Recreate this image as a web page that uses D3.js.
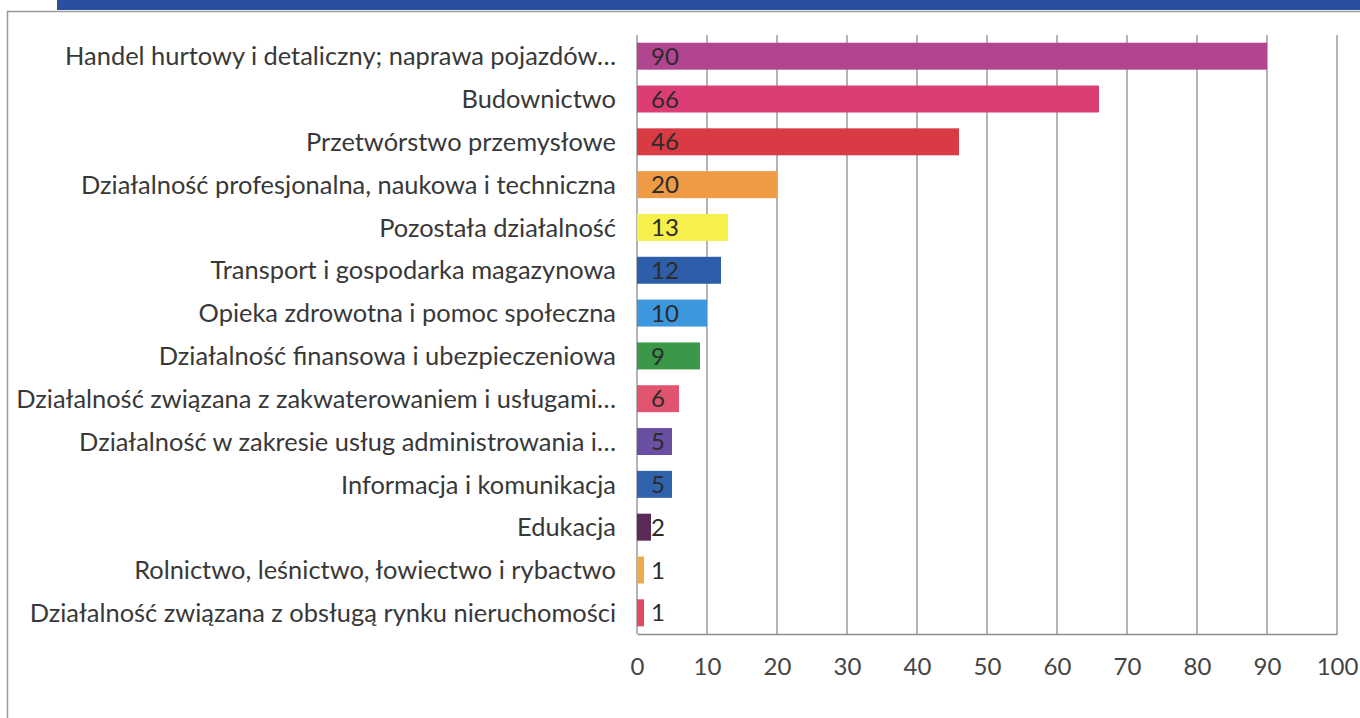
<!doctype html>
<html lang="pl">
<head>
  <meta charset="utf-8">
  <title>Osoby fizyczne wg rodzaju działalności</title>
  <style>
    body { margin: 0; background: #fff; }
    svg { display: block; }
    .lbl { font-family: Lato, "Open Sans", sans-serif; font-size: 27px; fill: #383838; }
    .tick text { font-family: Lato, "Open Sans", sans-serif; font-size: 24px; fill: #444; }
    .val { font-family: Lato, "Open Sans", sans-serif; font-size: 24px; fill: #2b2b2b; }
  </style>
</head>
<body>
  <script src="https://d3js.org/d3.v7.min.js" charset="utf-8"></script>
  <script>

  // categories, top to bottom
  var categories = [
    "Handel hurtowy i detaliczny; naprawa pojazdów…",
    "Budownictwo",
    "Przetwórstwo przemysłowe",
    "Działalność profesjonalna, naukowa i techniczna",
    "Pozostała działalność",
    "Transport i gospodarka magazynowa",
    "Opieka zdrowotna i pomoc społeczna",
    "Działalność finansowa i ubezpieczeniowa",
    "Działalność związana z zakwaterowaniem i usługami…",
    "Działalność w zakresie usług administrowania i…",
    "Informacja i komunikacja",
    "Edukacja",
    "Rolnictwo, leśnictwo, łowiectwo i rybactwo",
    "Działalność związana z obsługą rynku nieruchomości"
  ];
  var values = [90, 66, 46, 20, 13, 12, 10, 9, 6, 5, 5, 2, 1, 1];
  var colors = ["#b2458f", "#dc3d74", "#d93b45", "#ef9a45", "#f6ef4c", "#2e5ea9",
                "#3d97dc", "#3a9848", "#e05470", "#6a4fa2", "#2f63ae", "#5b2b58",
                "#f0aa4a", "#e04a62"];
  var xTicks = [0, 10, 20, 30, 40, 50, 60, 70, 80, 90, 100];

  var W = 1360, H = 718;
  var svg = d3.select("body").append("svg").attr("width", W).attr("height", H);

  // header strip (cut off at top of picture)
  svg.append("rect").attr("x", 57).attr("y", 0).attr("width", W - 57).attr("height", 10)
    .attr("fill", "#2a4f9e");

  // chart frame
  svg.append("rect").attr("x", 7.5).attr("y", 11.5).attr("width", W + 10).attr("height", H + 10)
    .attr("fill", "none").attr("stroke", "#9a9a9a").attr("stroke-width", 1.5);

  var x = d3.scaleLinear().domain([0, 100]).range([637, 1337]);
  var y = d3.scaleBand().domain(categories).range([35, 634]).paddingInner(0.37).paddingOuter(0.18);

  // vertical gridlines
  svg.append("g").selectAll("line").data(xTicks).enter().append("line")
    .attr("x1", function(d){ return x(d); }).attr("x2", function(d){ return x(d); })
    .attr("y1", 35).attr("y2", 634)
    .attr("stroke", "#8c8c8c").attr("stroke-width", 1.3);

  // bottom axis
  var xAxis = d3.axisBottom(x).tickValues(xTicks).tickSize(0).tickPadding(24);
  var gx = svg.append("g").attr("class", "tick-axis").attr("transform", "translate(0,634)").call(xAxis);
  gx.select(".domain").attr("stroke", "#8c8c8c").attr("stroke-width", 1.3);

  // bars
  svg.append("g").selectAll("rect").data(values).enter().append("rect")
    .attr("x", x(0))
    .attr("y", function(d, i){ return y(categories[i]); })
    .attr("width", function(d){ return x(d) - x(0); })
    .attr("height", y.bandwidth())
    .attr("fill", function(d, i){ return colors[i]; });

  // category labels
  var lbls = svg.append("g").selectAll("text").data(categories).enter().append("text")
    .attr("class", "lbl")
    .attr("x", 616)
    .attr("y", function(d){ return y(d) + y.bandwidth() / 2; })
    .attr("dy", "0.36em")
    .attr("text-anchor", "end")
    .text(function(d){ return d; });

  // shrink the labels if the longest one would not fit in the frame
  var maxW = d3.max(lbls.nodes(), function(n){ return n.getComputedTextLength(); });
  if (maxW > 600) lbls.style("font-size", (27 * 600 / maxW) + "px");

  // value labels, at the base of each bar
  svg.append("g").selectAll("text").data(values).enter().append("text")
    .attr("class", "val")
    .attr("x", x(0) + 14)
    .attr("y", function(d, i){ return y(categories[i]) + y.bandwidth() / 2; })
    .attr("dy", "0.36em")
    .text(function(d){ return d; });

  </script>
</body>
</html>
